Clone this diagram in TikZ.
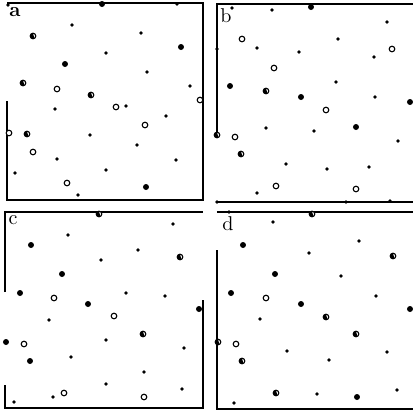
\documentclass[tikz,border=0pt]{standalone}
\usepackage{tikz}
\usetikzlibrary{positioning}

\begin{document}
\begin{tikzpicture}[
  x=0.5pt, y=-0.5pt,
  frame/.style={line width=0.6pt},
  sdot/.style={fill=black},
  fdot/.style={fill=black},
  ring/.style={draw=black, line width=0.55pt, fill=white},
  tag/.style={font=\normalsize, inner sep=0pt}
]
  \useasboundingbox (0,0) rectangle (413,414);

  \draw[frame] (7,101) -- (7,200) -- (203,200) -- (203,3) -- (7,3);
  \draw[frame] (217,135) -- (217,4) -- (413,4);
  \draw[frame] (216,202) -- (413,202);
  \draw[frame] (5,292) -- (5,212) -- (203,212);
  \draw[frame] (5,385) -- (5,408) -- (203,408) -- (203,300);
  \draw[frame] (217,250) -- (217,409) -- (413,409);
  \draw[frame] (217,212) -- (413,212);

  \node[tag] (la) at (15,12) {\textbf{a}};
  \node[tag] (lb) at (226,16) {b};
  \node[tag] (lc) at (13,220) {c};
  \node[tag] (ld) at (228,224) {d};

  \foreach \x/\y in {8/5,177/4,72/25,141/33,106/53,147/72,190/86,55/109,126/106,166/116,90/135,137/145,57/159,176/160,15/173,106/170,78/195,
    232/8,272/10,387/22,338/39,217/49,257/48,299/52,374/57,336/82,375/97,266/128,314/131,398/141,286/164,327/169,369/167,257/193,217/202,346/202,390/201,
    173/224,68/235,138/250,101/260,126/293,165/296,49/320,106/340,184/348,71/357,144/372,106/384,182/389,53/397,14/402,
    229/212,273/222,359/241,309/253,341/276,376/296,260/319,287/351,387/352,329/360,397/390,317/394,234/403}
    \fill[sdot] (\x,\y) circle (0.9pt);

  \foreach \x/\y in {102/4,181/47,65/64,146/187,
    311/7,230/86,301/97,410/102,356/127,
    31/245,62/274,20/293,88/304,199/309,6/342,30/361,
    243/245,275/274,231/293,301/304,410/309,357/397}
    \fill[fdot] (\x,\y) circle (1.5pt);

  \foreach \x/\y in {57/89,200/100,116/107,145/125,9/133,33/152,67/183,
    242/39,392/49,274/68,326/110,235/137,276/186,356/189,
    54/298,114/316,24/344,64/393,144/397,
    266/298,236/344}
    \draw[ring] (\x,\y) circle (1.4pt);

  \foreach \x/\y in {33/36,23/83,91/95,27/134,
    266/91,217/135,241/154,
    99/214,180/257,143/334,
    312/214,393/256,326/317,356/334,218/342,242/361,276/393}
  {
    \draw[ring] (\x,\y) circle (1.4pt);
    \fill (\x,\y) ++(90:1.4pt) arc (90:300:1.4pt) -- cycle;
  }
\end{tikzpicture}
\end{document}
